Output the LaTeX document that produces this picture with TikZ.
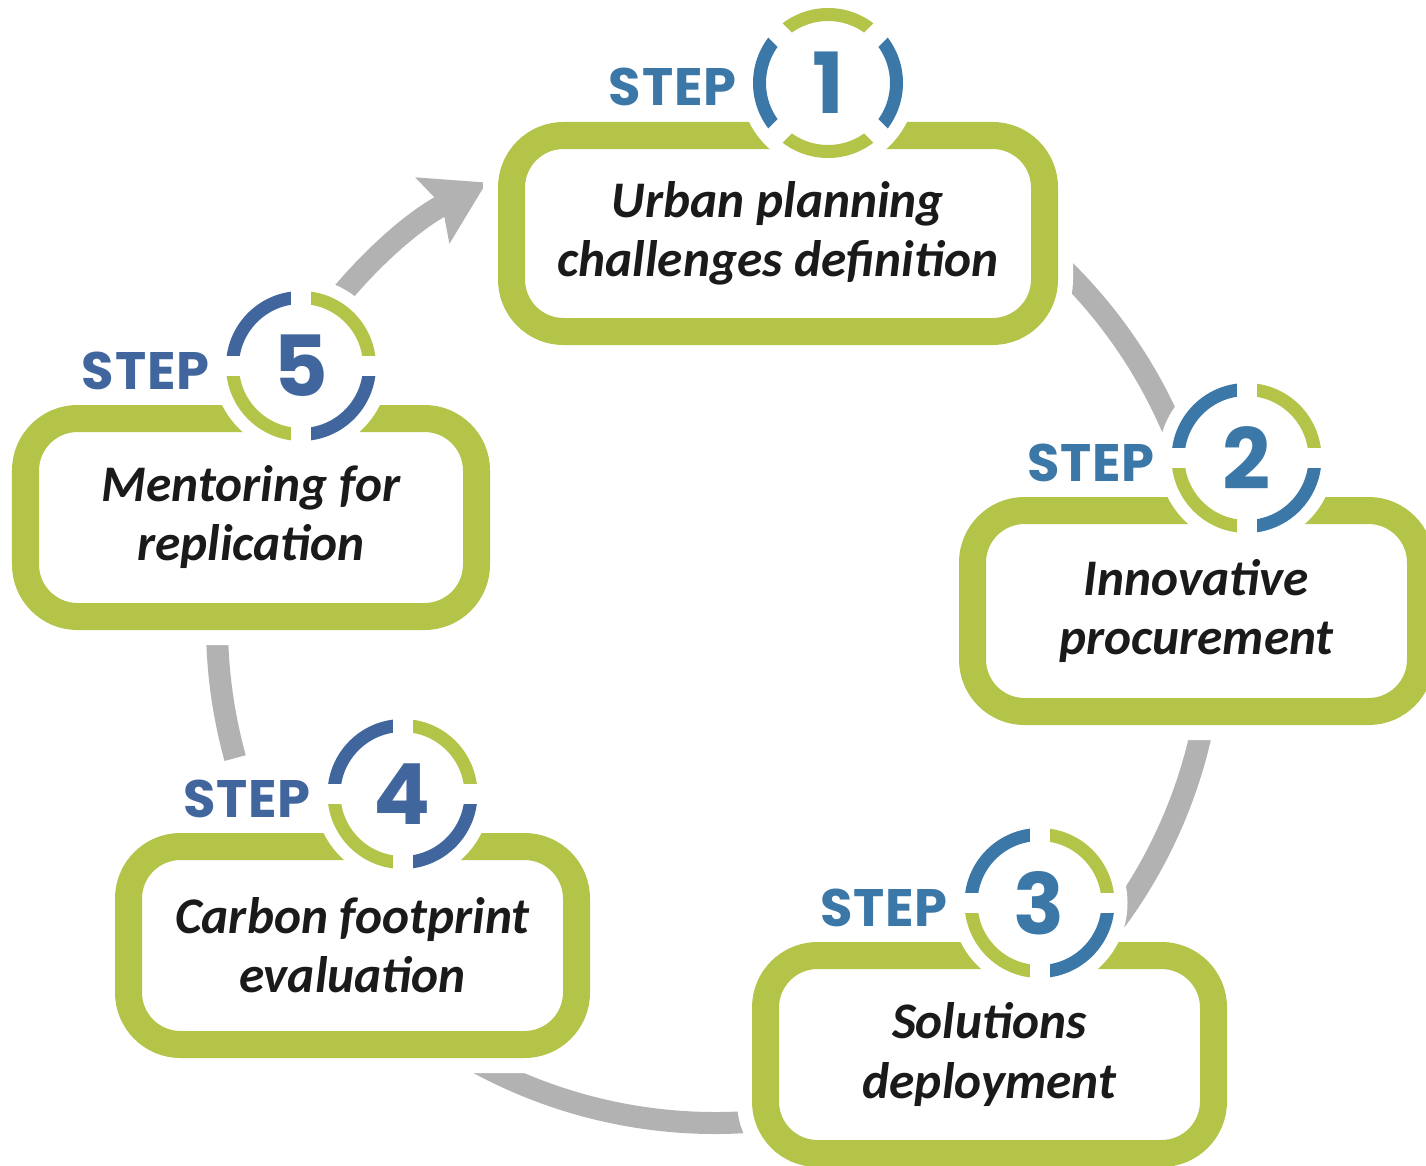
\documentclass[tikz,border=0pt]{standalone}
\usepackage{fontspec}
\setmainfont{Carlito}
\newfontfamily\stepfont{Poppins}[LetterSpace=1.5]
\usetikzlibrary{arrows.meta}

\definecolor{stepgreen}{HTML}{B3C449}
\definecolor{stepblue}{HTML}{3B78A8}
\definecolor{stepnavy}{HTML}{41669E}
\definecolor{flowgray}{HTML}{B2B2B2}
\definecolor{ink}{HTML}{1A1A1A}

\tikzset{
	stage/.style={draw=stepgreen, line width=0.27cm, fill=white, rounded corners=0.52cm,
		outer sep=0pt, align=center, text=ink, minimum width=4.48cm, minimum height=1.98cm,
		font=\fontsize{14.6}{16.8}\selectfont\bfseries\itshape,
		preaction={draw=white, line width=0.57cm}},
	badge/.style={circle, fill=white, minimum size=1.76cm, inner sep=0pt,
		font=\stepfont\bfseries\fontsize{24}{24}\selectfont},
	steplabel/.style={anchor=base east, inner sep=0pt,
		font=\stepfont\bfseries\fontsize{15}{15}\selectfont},
	flow/.style={draw=flowgray, line width=0.22cm},
}

% ring of four quarters round a badge: node, turn, blue
\newcommand{\badgering}[3]{
	\foreach \q in {0,180} {
		\draw [stepgreen, line width=0.13cm] ([shift={(#2+\q:0.685)}]#1.center) arc [start angle=#2+\q, end angle=#2+\q+90, radius=0.685];
		\draw [#3, line width=0.13cm] ([shift={(#2+\q+90:0.685)}]#1.center) arc [start angle=#2+\q+90, end angle=#2+\q+180, radius=0.685];
	}
	\foreach \q in {0,90,180,270}
		\draw [white, line width=0.2cm] ([shift={(#2+\q:0.5)}]#1.center) -- ([shift={(#2+\q:0.85)}]#1.center);
}

\begin{document}
\begin{tikzpicture}
		\useasboundingbox (0,0) rectangle (14.26,11.65);
		\coordinate (ring) at (7.15,5.40);
		
		% grey cycle
		\draw [flow] ([shift={(50:4.98)}]ring) arc [start angle=50, end angle=20, radius=4.98];
		\draw [flow] ([shift={(-8:4.98)}]ring) arc [start angle=-8, end angle=-40, radius=4.98];
		\draw [flow] ([shift={(-80:4.98)}]ring) arc [start angle=-80, end angle=-125, radius=4.98];
		\draw [flow] ([shift={(195.5:4.98)}]ring) arc [start angle=195.5, end angle=178, radius=4.98];
		\draw [flow, -{Stealth[length=0.6cm, width=0.72cm, inset=0.1cm]}] ([shift={(150:4.98)}]ring) arc [start angle=150, end angle=117.3, radius=4.98];
		
		\node [stage, minimum width=5.33cm, minimum height=1.96cm] (b1) at (7.78,9.315) {Urban planning\\challenges definition};
		\node [stage, minimum height=2.01cm] (b2) at (11.965,5.54) {Innovative\\procurement};
		\node [stage] (b3) at (9.895,1.105) {Solutions\\deployment};
		\node [stage] (b4) at (3.525,2.195) {Carbon footprint\\evaluation};
		\node [stage, minimum width=4.51cm] (b5) at (2.51,6.475) {Mentoring for\\replication};
		
		\node [badge, text=stepblue] (s1) at ([shift={(0.5,0.525)}]b1.north) {1};
		\node [badge, text=stepblue] (s2) at ([shift={(0.5,0.525)}]b2.north) {2};
		\node [badge, text=stepblue] (s3) at ([shift={(0.5,0.525)}]b3.north) {3};
		\node [badge, text=stepnavy] (s4) at ([shift={(0.5,0.525)}]b4.north) {4};
		\node [badge, text=stepnavy] (s5) at ([shift={(0.5,0.525)}]b5.north) {5};
		\badgering{s1}{45}{stepblue}
		\badgering{s2}{0}{stepblue}
		\badgering{s3}{0}{stepblue}
		\badgering{s4}{0}{stepnavy}
		\badgering{s5}{0}{stepnavy}
		
		\node [steplabel, text=stepblue] (l1) at ([shift={(-0.91,-0.23)}]s1.center) {STEP};
		\node [steplabel, text=stepblue] (l2) at ([shift={(-0.91,-0.23)}]s2.center) {STEP};
		\node [steplabel, text=stepblue] (l3) at ([shift={(-0.91,-0.23)}]s3.center) {STEP};
		\node [steplabel, text=stepnavy] (l4) at ([shift={(-0.91,-0.23)}]s4.center) {STEP};
		\node [steplabel, text=stepnavy] (l5) at ([shift={(-0.91,-0.23)}]s5.center) {STEP};
	\end{tikzpicture}
\end{document}
